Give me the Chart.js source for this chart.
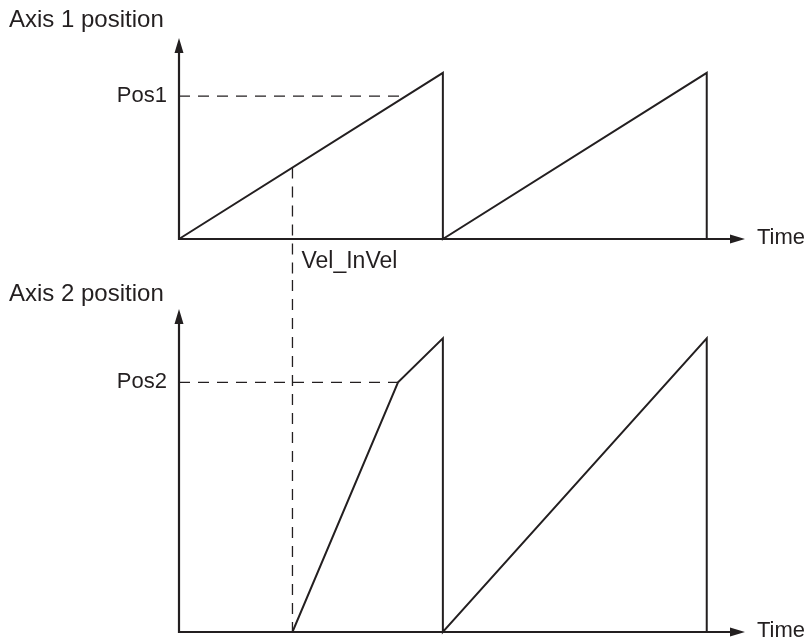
<!DOCTYPE html>
<html>
<head>
<meta charset="utf-8">
<script src="https://cdn.jsdelivr.net/npm/chart.js@4"></script>
<style>
  body { margin: 0; background: #fff; }
  #wrap { position: relative; width: 806px; height: 644px; }
  canvas { position: absolute; left: 0; }
</style>
</head>
<body>
<div id="wrap">
  <canvas id="axis1" width="806" height="280" style="top:0"></canvas>
  <canvas id="axis2" width="806" height="364" style="top:280px"></canvas>
</div>
<script>
// axis 1: plain sawtooth
const axis1Time = [0, 10, 10, 20, 20];
const axis1Pos = [0, 10, 0, 10, 0];
// axis 2: waits until Vel_InVel, then catches up
const axis2Time = [0, 4.3, 8.3, 10, 10, 20, 20];
const axis2Pos = [0, 0, 8.5, 10, 0, 10, 0];

const pos1 = 8.6;
const pos2 = 8.5;
const velInVel = 4.3;
const pos2Time = 8.3;
const tickLabels1 = ['Pos1'];
const tickLabels2 = ['Pos2'];

const ink = '#231f20';
const font = "'Liberation Sans', Arial, Helvetica, sans-serif";

function pts(xs, ys) {
  return xs.map((x, i) => ({x: x, y: ys[i]}));
}

// axes with arrows, dashed guides and labels
const diagram = {
  id: 'diagram',
  afterDatasetsDraw(chart, args, o) {
    const ctx = chart.ctx;
    const x = chart.scales.x, y = chart.scales.y;
    const a = chart.chartArea;
    const x0 = x.getPixelForValue(0), y0 = y.getPixelForValue(0);
    ctx.save();

    // dashed guides
    ctx.strokeStyle = ink;
    ctx.lineWidth = 1.3;
    ctx.setLineDash([11, 8]);
    ctx.beginPath();
    ctx.moveTo(x0, y.getPixelForValue(o.level));
    ctx.lineTo(x.getPixelForValue(o.levelTime), y.getPixelForValue(o.level));
    const vx = x.getPixelForValue(velInVel);
    if (o.vFromLine) {
      ctx.moveTo(vx, y.getPixelForValue(o.vStart));
      ctx.lineTo(vx, chart.height);
    } else {
      ctx.moveTo(vx, 0);
      ctx.lineTo(vx, y0);
    }
    ctx.stroke();
    ctx.setLineDash([]);

    // axis lines
    ctx.lineWidth = 2.2;
    ctx.beginPath();
    ctx.moveTo(x0, y0 + 1);
    ctx.lineTo(x0, a.top + 10);
    ctx.moveTo(x0 - 1, y0);
    ctx.lineTo(a.right - 10, y0);
    ctx.stroke();
    ctx.fillStyle = ink;
    ctx.beginPath();
    ctx.moveTo(x0, a.top);
    ctx.lineTo(x0 - 4.5, a.top + 15);
    ctx.lineTo(x0 + 4.5, a.top + 15);
    ctx.closePath();
    ctx.moveTo(a.right, y0);
    ctx.lineTo(a.right - 15, y0 - 4.5);
    ctx.lineTo(a.right - 15, y0 + 4.5);
    ctx.closePath();
    ctx.fill();

    // texts
    ctx.textAlign = 'left';
    ctx.textBaseline = 'alphabetic';
    ctx.font = '24px ' + font;
    ctx.fillText(o.title, 9, o.titleBase);
    ctx.font = '22px ' + font;
    ctx.textBaseline = 'middle';
    ctx.fillText('Time', a.right + 12, y0 - 1);
    if (o.vFromLine) {
      ctx.font = '23px ' + font;
      ctx.textBaseline = 'alphabetic';
      ctx.fillText('Vel_InVel', vx + 9, y0 + 29);
    }
    ctx.restore();
  }
};

function makeChart(id, data, yMax, tickVal, tickText, pad, extra) {
  return new Chart(document.getElementById(id), {
    type: 'scatter',
    data: {
      datasets: [{
        data: data,
        showLine: true,
        borderColor: ink,
        borderWidth: 2,
        pointRadius: 0,
        tension: 0,
        borderJoinStyle: 'miter',
        clip: false
      }]
    },
    options: {
      responsive: false,
      animation: false,
      layout: {padding: pad},
      plugins: {legend: {display: false}, tooltip: {enabled: false}, diagram: extra},
      scales: {
        x: {type: 'linear', min: 0, max: 21.45, display: false},
        y: {
          type: 'linear', min: 0, max: yMax,
          grid: {display: false, drawTicks: false},
          border: {display: false},
          afterBuildTicks: s => { s.ticks = [{value: tickVal}]; },
          afterFit: s => { s.width = 179; s.paddingTop = 0; s.paddingBottom = 0; },
          ticks: {
            padding: 12,
            color: ink,
            font: {family: font, size: 22},
            callback: () => tickText[0]
          }
        }
      }
    },
    plugins: [diagram]
  });
}

makeChart('axis1', pts(axis1Time, axis1Pos), 12.1, pos1, tickLabels1,
  {top: 38, right: 61, bottom: 41, left: 0},
  {title: 'Axis 1 position', titleBase: 27, level: pos1, levelTime: pos1 * axis1Time[1] / axis1Pos[1],
   vFromLine: true, vStart: velInVel * axis1Pos[1] / axis1Time[1]});

makeChart('axis2', pts(axis2Time, axis2Pos), 11, pos2, tickLabels2,
  {top: 29, right: 61, bottom: 12, left: 0},
  {title: 'Axis 2 position', titleBase: 21, level: pos2, levelTime: pos2Time, vFromLine: false});
</script>
</body>
</html>
